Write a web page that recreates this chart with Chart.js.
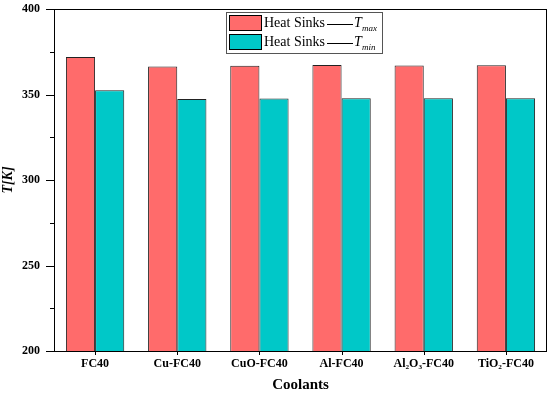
<!DOCTYPE html>
<html>
<head>
<meta charset="utf-8">
<script src="https://cdn.jsdelivr.net/npm/chart.js@4.4.0/dist/chart.umd.min.js"></script>
<style>
  html, body { margin: 0; padding: 0; background: #fff; }
  #wrap { width: 550px; height: 394px; position: relative; }
</style>
</head>
<body>
<div id="wrap"><canvas id="chart"></canvas></div>
<script>
// Data
const coolants = ['FC40', 'Cu-FC40', 'CuO-FC40', 'Al-FC40', 'Al\u2082O\u2083-FC40', 'TiO\u2082-FC40'];
const tMax = [372.0, 366.4, 366.8, 367.2, 367.0, 367.1];
const tMin = [352.5, 347.3, 347.6, 347.8, 347.8, 347.8];
const yTicks = [200, 250, 300, 350, 400];

const serif = "'Liberation Serif', 'Times New Roman', serif";
const redFill = '#ff6b6b';
const cyanFill = '#00c8c8';

// frame round the plot + hand drawn tick marks (major/minor)
const framePlugin = {
    id: 'frame',
    afterDraw(chart) {
        const ctx = chart.ctx;
        const a = chart.chartArea;
        const y = chart.scales.y;
        const x = chart.scales.x;
        ctx.save();
        ctx.strokeStyle = '#000';
        ctx.lineWidth = 1;
        ctx.strokeRect(a.left + 0.5, a.top + 0.5, a.right - a.left - 1, a.bottom - a.top);
        ctx.beginPath();
        y.ticks.forEach(t => {
            const py = Math.round(y.getPixelForValue(t.value)) + 0.5;
            const len = yTicks.includes(t.value) ? 8 : 4;
            ctx.moveTo(a.left, py);
            ctx.lineTo(a.left - len, py);
        });
        coolants.forEach((c, i) => {
            const px = Math.round(x.getPixelForValue(i)) + 0.5;
            ctx.moveTo(px, a.bottom);
            ctx.lineTo(px, a.bottom + 4);
        });
        ctx.stroke();
        ctx.restore();
    }
};

// legend box with subscripts
const legendPlugin = {
    id: 'customLegend',
    afterDraw(chart) {
        const ctx = chart.ctx;
        const bx = 226, by = 12, bw = 156, bh = 41;
        ctx.save();
        ctx.fillStyle = '#fff';
        ctx.fillRect(bx, by, bw, bh);
        ctx.strokeStyle = '#555';
        ctx.lineWidth = 1;
        ctx.strokeRect(bx + 0.5, by + 0.5, bw, bh);
        const rows = [
            { fill: redFill, sub: 'max' },
            { fill: cyanFill, sub: 'min' }
        ];
        rows.forEach((r, i) => {
            const sy = by + 3 + i * 19;
            ctx.fillStyle = r.fill;
            ctx.fillRect(bx + 3, sy, 32, 15);
            ctx.strokeStyle = '#000';
            ctx.strokeRect(bx + 3.5, sy + 0.5, 32, 15);
            ctx.fillStyle = '#000';
            ctx.font = '14px ' + serif;
            ctx.textBaseline = 'middle';
            ctx.textAlign = 'left';
            const ty = sy + 8;
            ctx.fillText('Heat Sinks', bx + 38, ty);
            ctx.beginPath();
            ctx.moveTo(bx + 101, ty + 1.5);
            ctx.lineTo(bx + 127, ty + 1.5);
            ctx.stroke();
            ctx.font = 'italic 14px ' + serif;
            ctx.fillText('T', bx + 128, ty);
            ctx.font = 'italic 9px ' + serif;
            ctx.fillText(r.sub, bx + 136, ty + 6);
        });
        ctx.restore();
    }
};

new Chart(document.getElementById('chart'), {
    type: 'bar',
    data: {
        labels: coolants,
        datasets: [
            { label: 'Heat Sinks\u2014T max', data: tMax, backgroundColor: redFill, borderColor: '#222', borderWidth: 1 },
            { label: 'Heat Sinks\u2014T min', data: tMin, backgroundColor: cyanFill, borderColor: '#222', borderWidth: 1 }
        ]
    },
    options: {
        responsive: true,
        maintainAspectRatio: false,
        animation: false,
        layout: { padding: { top: 9, right: 3, left: 0, bottom: 0 } },
        datasets: { bar: { barPercentage: 1, categoryPercentage: 0.71 } },
        plugins: { legend: { display: false }, tooltip: { enabled: false } },
        scales: {
            x: {
                grid: { display: false, drawTicks: false },
                border: { display: false },
                ticks: { color: '#000', font: { family: serif, size: 12, weight: 'bold' }, padding: 6, maxRotation: 0 },
                title: { display: true, text: 'Coolants', color: '#000', font: { family: serif, size: 15, weight: 'bold' }, padding: { top: 6, bottom: 0 } },
                afterFit(scale) { scale.height = 43; }
            },
            y: {
                min: 200,
                max: 400,
                grid: { display: false, drawTicks: false },
                border: { display: false },
                ticks: {
                    stepSize: 25,
                    color: '#000',
                    padding: 14,
                    font: { family: serif, size: 12, weight: 'bold' },
                    callback: v => (yTicks.includes(v) ? v : '')
                },
                title: { display: true, text: 'T[K]', color: '#000', font: { family: serif, size: 14, weight: 'bold', style: 'italic' }, padding: { top: 0, bottom: 0 } },
                afterFit(scale) {
                    scale.width = 54;
                    scale.paddingTop = 0;
                    scale.paddingBottom = 0;
                }
            }
        }
    },
    plugins: [framePlugin, legendPlugin]
});
</script>
</body>
</html>
